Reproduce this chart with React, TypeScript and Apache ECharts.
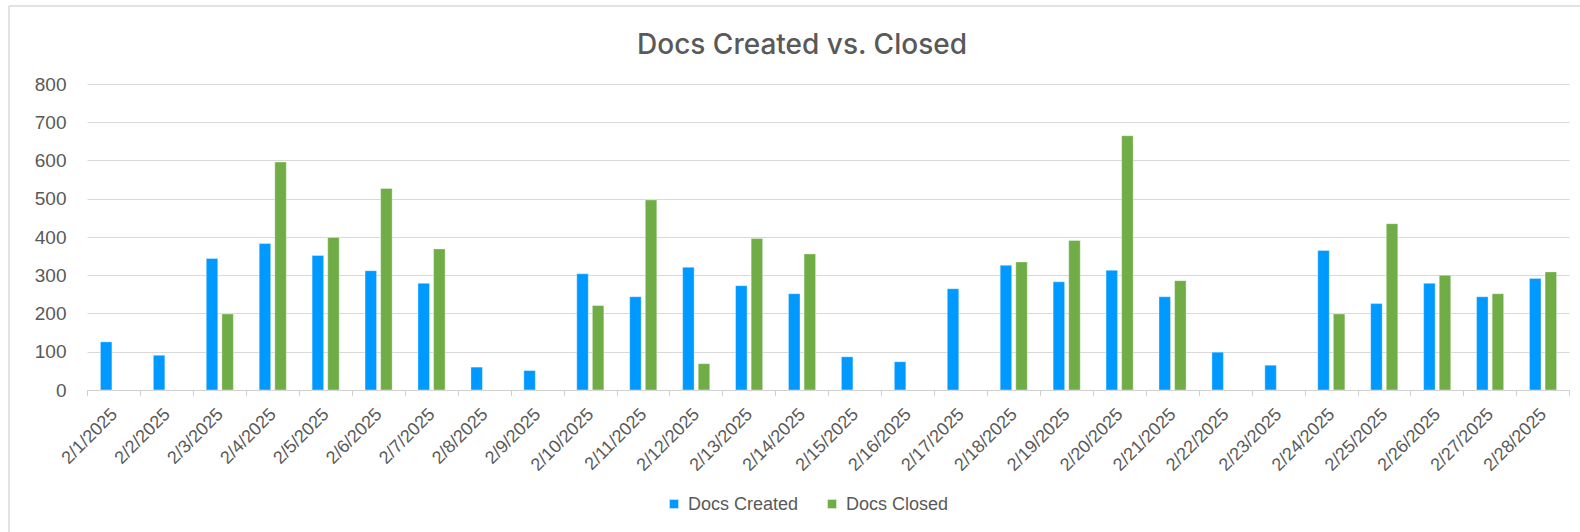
import React, { useEffect, useRef } from "react";
import * as echarts from "echarts";

const categories = [
  "2/1/2025", "2/2/2025", "2/3/2025", "2/4/2025", "2/5/2025", "2/6/2025", "2/7/2025",
  "2/8/2025", "2/9/2025", "2/10/2025", "2/11/2025", "2/12/2025", "2/13/2025", "2/14/2025",
  "2/15/2025", "2/16/2025", "2/17/2025", "2/18/2025", "2/19/2025", "2/20/2025", "2/21/2025",
  "2/22/2025", "2/23/2025", "2/24/2025", "2/25/2025", "2/26/2025", "2/27/2025", "2/28/2025",
];

const docsCreated = [
  127, 92, 345, 384, 353, 313, 280, 61, 52, 305, 245, 322, 274, 253,
  88, 75, 266, 327, 284, 314, 245, 100, 66, 366, 227, 280, 245, 293,
];

const docsClosed: (number | null)[] = [
  null, null, 200, 597, 400, 528, 370, null, null, 222, 498, 70, 397, 357,
  null, null, null, 336, 392, 666, 287, null, null, 200, 436, 301, 253, 310,
];

const yTicks = { min: 0, max: 800, interval: 100 };

export default function App() {
  const ref = useRef<HTMLDivElement>(null);

  useEffect(() => {
    document.body.style.margin = "0";
    if (!ref.current) return;
    const chart = echarts.init(ref.current, undefined, { renderer: "svg" });
    const labelColor = "#595959";
    const font = "'Liberation Sans', Arial, sans-serif";
    chart.setOption({
      animation: false,
      backgroundColor: "#ffffff",
      title: {
        text: "Docs Created vs. Closed",
        left: 797,
        textAlign: "center",
        top: 25,
        textStyle: {
          fontFamily: "Inter, 'Open Sans', sans-serif",
          fontSize: 28,
          fontWeight: 500,
          color: labelColor,
        },
      },
      legend: {
        data: ["Docs Created", "Docs Closed"],
        left: 663,
        top: 490,
        icon: "rect",
        itemWidth: 10,
        itemHeight: 10,
        itemGap: 28,
        textStyle: {
          fontFamily: font,
          fontSize: 18,
          color: labelColor,
          padding: [0, 0, 0, 4],
        },
      },
      grid: {
        left: 87.5,
        right: 10.5,
        top: 84.2,
        bottom: 141.8,
        containLabel: false,
      },
      xAxis: {
        type: "category",
        data: categories,
        axisLine: { lineStyle: { color: "#d0d0d0", width: 1 } },
        axisTick: { show: true, length: 6, lineStyle: { color: "#d0d0d0" } },
        axisLabel: {
          rotate: 45,
          interval: 0,
          margin: 21,
          fontFamily: font,
          fontSize: 18,
          color: labelColor,
        },
      },
      yAxis: {
        type: "value",
        min: yTicks.min,
        max: yTicks.max,
        interval: yTicks.interval,
        axisLine: { show: false },
        axisTick: { show: false },
        splitLine: { lineStyle: { color: "#d9d9d9", width: 1 } },
        axisLabel: {
          margin: 21,
          fontFamily: font,
          fontSize: 19,
          color: labelColor,
        },
      },
      series: [
        {
          name: "Docs Created",
          type: "bar",
          data: docsCreated,
          barWidth: 12,
          barGap: "30%",
          itemStyle: { color: "#0099FF", borderColor: "rgba(255,255,255,0.7)", borderWidth: 0.5 },
        },
        {
          name: "Docs Closed",
          type: "bar",
          data: docsClosed,
          barWidth: 12,
          barGap: "30%",
          itemStyle: { color: "#70AD47", borderColor: "rgba(255,255,255,0.7)", borderWidth: 0.5 },
        },
      ],
      graphic: [
        {
          type: "line",
          shape: { x1: 9, y1: 6, x2: 1580, y2: 6 },
          style: { stroke: "#d9d9d9", lineWidth: 1.5 },
        },
        {
          type: "line",
          shape: { x1: 9, y1: 6, x2: 9, y2: 532 },
          style: { stroke: "#d9d9d9", lineWidth: 1.5 },
        },
      ],
    });
    return () => chart.dispose();
  }, []);

  return <div ref={ref} style={{ width: 1580, height: 532 }} />;
}
